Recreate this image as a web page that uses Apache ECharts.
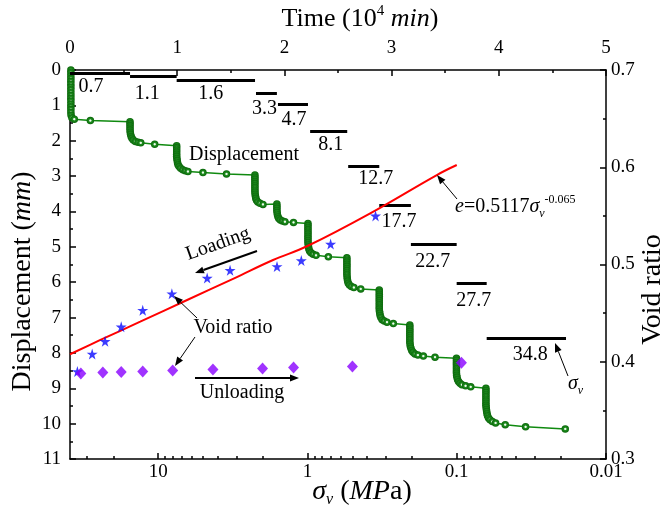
<!DOCTYPE html>
<html><head><meta charset="utf-8">
<script src="https://cdn.jsdelivr.net/npm/echarts@6/dist/echarts.min.js"></script>
<style>html,body{margin:0;padding:0;background:#fff}#c{width:665px;height:511px}</style>
</head><body><div id="c"></div>
<script>
// ---------------- data ----------------
// displacement (mm) vs time (10^4 min)
const dispPoints = [
[0.008,0.00],[0.008,0.08],[0.008,0.16],[0.008,0.24],[0.008,0.32],[0.008,0.40],[0.008,0.48],[0.008,0.56],[0.008,0.64],[0.008,0.72],[0.008,0.80],[0.008,0.88],[0.008,0.96],[0.008,1.04],[0.008,1.12],[0.008,1.20],[0.010,1.28],[0.018,1.35],[0.04,1.39],[0.19,1.43],
[0.56,1.46],[0.56,1.52],[0.56,1.58],[0.56,1.64],[0.56,1.70],[0.562,1.76],[0.565,1.82],[0.57,1.88],[0.578,1.93],[0.59,1.98],[0.61,2.02],[0.635,2.04],[0.66,2.06],[0.79,2.10],
[0.995,2.14],[0.995,2.20],[0.995,2.26],[0.995,2.32],[0.995,2.38],[0.995,2.44],[0.997,2.50],[1.0,2.56],[1.003,2.62],[1.008,2.68],[1.018,2.73],[1.032,2.78],[1.052,2.82],[1.075,2.85],[1.10,2.87],[1.24,2.90],[1.46,2.94],
[1.725,2.97],[1.725,3.03],[1.725,3.09],[1.725,3.15],[1.725,3.21],[1.725,3.27],[1.725,3.33],[1.725,3.39],[1.725,3.45],[1.727,3.51],[1.73,3.57],[1.733,3.63],[1.74,3.68],[1.752,3.73],[1.772,3.77],[1.80,3.80],
[1.93,3.79],[1.93,3.85],[1.93,3.91],[1.93,3.97],[1.932,4.03],[1.935,4.09],[1.94,4.15],[1.948,4.20],[1.962,4.24],[1.982,4.27],[2.005,4.29],[2.085,4.31],
[2.22,4.34],[2.22,4.40],[2.22,4.46],[2.22,4.52],[2.22,4.58],[2.22,4.64],[2.22,4.70],[2.22,4.76],[2.22,4.82],[2.22,4.88],[2.222,4.94],[2.225,5.00],[2.228,5.06],[2.235,5.12],[2.248,5.17],[2.268,5.21],[2.295,5.24],[2.41,5.28],
[2.583,5.31],[2.583,5.37],[2.583,5.43],[2.583,5.49],[2.583,5.55],[2.583,5.61],[2.583,5.67],[2.583,5.73],[2.583,5.79],[2.585,5.85],[2.587,5.91],[2.59,5.97],[2.596,6.03],[2.607,6.08],[2.625,6.12],[2.648,6.15],[2.712,6.19],
[2.885,6.22],[2.885,6.28],[2.885,6.34],[2.885,6.40],[2.885,6.46],[2.885,6.52],[2.885,6.58],[2.885,6.64],[2.885,6.70],[2.885,6.76],[2.887,6.82],[2.89,6.88],[2.893,6.94],[2.90,7.00],[2.912,7.06],[2.932,7.10],[2.957,7.13],[3.016,7.17],
[3.17,7.21],[3.17,7.27],[3.17,7.33],[3.17,7.39],[3.17,7.45],[3.17,7.51],[3.17,7.57],[3.17,7.63],[3.17,7.69],[3.172,7.75],[3.175,7.81],[3.18,7.87],[3.188,7.93],[3.2,7.98],[3.218,8.03],[3.245,8.06],[3.296,8.09],[3.405,8.12],
[3.605,8.15],[3.605,8.21],[3.605,8.27],[3.605,8.33],[3.605,8.39],[3.605,8.45],[3.605,8.51],[3.605,8.57],[3.607,8.63],[3.61,8.69],[3.615,8.75],[3.624,8.81],[3.638,8.86],[3.656,8.90],[3.69,8.93],[3.738,8.96],
[3.88,9.00],[3.88,9.06],[3.88,9.12],[3.88,9.18],[3.88,9.24],[3.88,9.30],[3.88,9.36],[3.88,9.42],[3.88,9.48],[3.882,9.54],[3.884,9.60],[3.887,9.66],[3.89,9.72],[3.895,9.78],[3.904,9.84],[3.918,9.89],[3.94,9.94],[3.97,9.98],[4.06,10.03],[4.25,10.09],[4.62,10.15]
];

// loading steps: stress (MPa) and their time spans (10^4 min)
const stepStress = [0.7, 1.1, 1.6, 3.3, 4.7, 8.1, 12.7, 17.7, 22.7, 27.7, 34.8];
const stepStart  = [0, 0.56, 0.995, 1.735, 1.94, 2.24, 2.595, 2.885, 3.18, 3.607, 3.887];
const stepEnd    = [0.56, 0.995, 1.726, 1.93, 2.22, 2.586, 2.885, 3.18, 3.607, 3.887, 4.627];

// void ratio, loading (stars)
const loadSigma = [34.8, 27.7, 22.7, 17.7, 12.7, 8.1, 4.7, 3.3, 1.6, 1.1, 0.7, 0.35];
const loadE     = [0.390, 0.408, 0.421, 0.436, 0.453, 0.470, 0.486, 0.494, 0.498, 0.504, 0.521, 0.550];
// void ratio, unloading (diamonds)
const unloadSigma = [33, 23.5, 17.7, 12.7, 8.0, 4.3, 2.0, 1.24, 0.5, 0.093];
const unloadE     = [0.388, 0.389, 0.3895, 0.390, 0.391, 0.392, 0.393, 0.394, 0.395, 0.399];
// fitted curve e = 0.5117 sigma^-0.065
const fitSigma = [39, 24.4, 13.2, 6.4, 3.1, 1.7, 1.0, 0.38, 0.136, 0.1];
const fitE     = [0.4077, 0.4224, 0.4412, 0.4635, 0.4858, 0.5046, 0.519, 0.5526, 0.592, 0.6023];

// stress axis (log scale) range and ticks
const sigmaMin = 0.01, sigmaMax = 39;
const sigmaMinorTicks = [0.02,0.03,0.04,0.05,0.06,0.07,0.08,0.09,0.2,0.3,0.4,0.5,0.6,0.7,0.8,0.9,2,3,4,5,6,7,8,9,20,30];

// ---------------- layout (not data) ----------------
const stepLabelDx = [-9, -6, -5, -2, 1, 2, 12, 4, -1, 2, 4];
const stepLabelDy = [13, 17, 13, 15, 15, 14, 12, 16, 17, 17, 16];

const FONT = 'Liberation Serif';
const lg = Math.log10;
const chart = echarts.init(document.getElementById('c'), null, {renderer: 'canvas'});

const stepLines = stepStress.map((s, i) => ({coords: [[stepStart[i], s], [stepEnd[i], s]]}));
const stepLabels = stepStress.map((s, i) => ({
  value: [(stepStart[i] + stepEnd[i]) / 2, s],
  label: {offset: [stepLabelDx[i], stepLabelDy[i]]}
}));

const greenFill = {type: 'radial', x: 0.5, y: 0.5, r: 0.5, colorStops: [
  {offset: 0, color: '#ffffff'}, {offset: 0.2, color: '#e0f2e0'}, {offset: 0.42, color: '#1f8f1f'}, {offset: 1, color: '#0a660a'}]};

const axisLineStyle = {color: '#000', width: 1.5};
const labelStyle = {color: '#000', fontFamily: FONT, fontSize: 19};

function fmtPow(v) {
  const r = Math.round(v);
  if (Math.abs(v - r) > 1e-6) return '';
  return r >= 0 ? String(Math.pow(10, r)) : Math.pow(10, r).toFixed(-r);
}

function arrow(x1, y1, x2, y2, w) {
  const dx = x2 - x1, dy = y2 - y1, L = Math.hypot(dx, dy);
  const ux = dx / L, uy = dy / L, px = -uy, py = ux;
  const hl = 9, hw = 3.5;
  const bx = x2 - ux * hl, by = y2 - uy * hl;
  return [
    {type: 'line', shape: {x1: x1, y1: y1, x2: bx, y2: by}, style: {stroke: '#000', lineWidth: w}, z: 100},
    {type: 'polygon', shape: {points: [[x2, y2], [bx + px * hw, by + py * hw], [bx - px * hw, by - py * hw]]}, style: {fill: '#000'}, z: 100}
  ];
}
function txt(text, x, y, extra) {
  return Object.assign({type: 'text', x: x, y: y, z: 100, style: {text: text, fill: '#000', font: '20px "' + FONT + '"', align: 'center', verticalAlign: 'middle'}}, extra || {});
}

const graphics = [].concat(
  [txt('Displacement', 244, 155), txt('Void ratio', 233, 328), txt('Unloading', 242, 393),
   txt('Loading', 218, 244, {rotation: 0.34})],
  [{type: 'text', x: 455, y: 207, z: 100, style: {
     text: '{i|e}=0.5117{i|σ}{sub|v}{sup|-0.065}', fill: '#000', font: '20px "' + FONT + '"', align: 'left', verticalAlign: 'middle', lineHeight: 26,
     rich: {i: {fontStyle: 'italic', fontSize: 20, fontFamily: FONT, lineHeight: 26},
            sub: {fontStyle: 'italic', fontSize: 12, fontFamily: FONT, verticalAlign: 'bottom', lineHeight: 12},
            sup: {fontSize: 12, fontFamily: FONT, verticalAlign: 'top', lineHeight: 12}}}},
   {type: 'text', x: 568, y: 384, z: 100, style: {
     text: '{i|σ}{sub|v}', fill: '#000', font: '20px "' + FONT + '"', align: 'left', verticalAlign: 'middle', lineHeight: 26,
     rich: {i: {fontStyle: 'italic', fontSize: 20, fontFamily: FONT, lineHeight: 26},
            sub: {fontStyle: 'italic', fontSize: 12, fontFamily: FONT, verticalAlign: 'bottom', lineHeight: 12}}}}],
  arrow(257, 251, 195, 273, 2),
  arrow(197, 318, 174, 296, 1),
  arrow(195, 337, 175, 366, 1),
  arrow(195, 378, 299, 378, 2),
  arrow(457, 199, 437, 175, 1),
  arrow(568, 376, 555, 343, 1)
);

const line = show => ({show: show, onZero: false, lineStyle: axisLineStyle});

const option = {
  animation: false,
  backgroundColor: '#fff',
  textStyle: {fontFamily: FONT, color: '#000'},
  grid: {left: 70, right: 59, top: 70, bottom: 52, containLabel: false, outerBoundsMode: 'none'},
  xAxis: [
    { // stress (log10 of MPa), inverted
      type: 'value', position: 'bottom', min: lg(sigmaMin), max: lg(sigmaMax), interval: 1, inverse: true,
      axisLine: line(true),
      axisTick: {show: true, inside: true, length: 6, lineStyle: axisLineStyle},
      axisLabel: Object.assign({margin: 4, formatter: fmtPow, showMaxLabel: false}, labelStyle),
      splitLine: {show: false},
      name: '{i|σ}{sub|v} ({i|MP}a)', nameLocation: 'middle', nameGap: 17, nameMoveOverlap: false,
      nameTextStyle: {fontFamily: FONT, fontSize: 28, color: '#000', lineHeight: 32, padding: [0, 0, 0, 48],
        rich: {i: {fontStyle: 'italic', fontSize: 28, fontFamily: FONT, lineHeight: 32},
               sub: {fontStyle: 'italic', fontSize: 16, fontFamily: FONT, verticalAlign: 'bottom', lineHeight: 16}}}
    },
    { // minor ticks of stress axis
      type: 'value', position: 'bottom', min: lg(sigmaMin), max: lg(sigmaMax), inverse: true,
      axisLine: line(false),
      axisTick: {show: true, inside: true, length: 3, lineStyle: axisLineStyle, customValues: sigmaMinorTicks.map(lg)},
      axisLabel: {show: false}, splitLine: {show: false}
    },
    { // time
      type: 'value', position: 'top', min: 0, max: 5, interval: 1,
      axisLine: line(true),
      axisTick: {show: true, inside: true, length: 6, lineStyle: axisLineStyle},
      minorTick: {show: true, splitNumber: 2, length: 3, lineStyle: axisLineStyle},
      axisLabel: Object.assign({margin: 12}, labelStyle),
      splitLine: {show: false},
      name: 'Time (10{sup|4} {i|min})', nameLocation: 'middle', nameGap: 36, nameMoveOverlap: false,
      nameTextStyle: {fontFamily: FONT, fontSize: 26, color: '#000', lineHeight: 30, padding: [0, 0, 0, 44],
        rich: {i: {fontStyle: 'italic', fontSize: 26, fontFamily: FONT, lineHeight: 30},
               sup: {fontSize: 15, fontFamily: FONT, verticalAlign: 'top', lineHeight: 15}}}
    }
  ],
  yAxis: [
    { // displacement
      type: 'value', position: 'left', min: 0, max: 11, interval: 1, inverse: true,
      axisLine: line(true),
      axisTick: {show: true, inside: true, length: 6, lineStyle: axisLineStyle},
      minorTick: {show: true, splitNumber: 2, length: 3, lineStyle: axisLineStyle},
      axisLabel: Object.assign({margin: 9}, labelStyle),
      splitLine: {show: false},
      name: 'Displacement ({i|mm})', nameLocation: 'middle', nameRotate: 90, nameGap: 31, nameMoveOverlap: false,
      nameTextStyle: {fontFamily: FONT, fontSize: 28, color: '#000', lineHeight: 32, padding: [0, 34, 0, 0],
        rich: {i: {fontStyle: 'italic', fontSize: 28, fontFamily: FONT, lineHeight: 32}}}
    },
    { // void ratio
      type: 'value', position: 'right', min: 0.3, max: 0.7, interval: 0.1,
      axisLine: line(true),
      axisTick: {show: true, inside: true, length: 6, lineStyle: axisLineStyle},
      minorTick: {show: true, splitNumber: 2, length: 3, lineStyle: axisLineStyle},
      axisLabel: Object.assign({margin: 5, formatter: v => v.toFixed(1)}, labelStyle),
      splitLine: {show: false},
      name: 'Void ratio', nameLocation: 'middle', nameRotate: 90, nameGap: 31, nameMoveOverlap: false,
      nameTextStyle: {fontFamily: FONT, fontSize: 28, color: '#000', lineHeight: 32, padding: [0, 50, 0, 0]}
    },
    { // hidden stress scale for the loading steps
      type: 'value', show: false, min: 0.27, max: 50.27, inverse: true,
      axisLine: line(false), splitLine: {show: false}
    }
  ],
  series: [
    {
      type: 'line', name: 'Displacement', xAxisIndex: 2, yAxisIndex: 0,
      data: dispPoints, symbol: 'circle', symbolSize: 7.5, showSymbol: true,
      lineStyle: {color: '#108a10', width: 1.5},
      itemStyle: {color: greenFill, borderWidth: 0},
      z: 3
    },
    {
      type: 'lines', coordinateSystem: 'cartesian2d', xAxisIndex: 2, yAxisIndex: 2,
      data: stepLines, lineStyle: {color: '#000', width: 3, opacity: 1, curveness: 0}, z: 4
    },
    {
      type: 'scatter', xAxisIndex: 2, yAxisIndex: 2, data: stepLabels,
      symbol: 'circle', symbolSize: 0, itemStyle: {color: '#000', opacity: 1},
      label: {show: true, position: 'inside', formatter: p => String(stepStress[p.dataIndex]),
        color: '#000', opacity: 1, textBorderWidth: 0, textShadowBlur: 0, fontFamily: FONT, fontSize: 20},
      z: 5
    },
    {
      type: 'line', name: 'fit', xAxisIndex: 0, yAxisIndex: 1,
      data: fitSigma.map((s, i) => [lg(s), fitE[i]]), smooth: 0.4, symbol: 'none',
      lineStyle: {color: '#ff0000', width: 2}, z: 6
    },
    {
      type: 'scatter', name: 'Loading', xAxisIndex: 0, yAxisIndex: 1,
      data: loadSigma.map((s, i) => [lg(s), loadE[i]]),
      symbol: 'path://M50,0 L61,35 L98,35 L68,57 L79,91 L50,70 L21,91 L32,57 L2,35 L39,35 Z',
      symbolSize: 11, itemStyle: {color: '#0a0aff'}, z: 7
    },
    {
      type: 'scatter', name: 'Unloading', xAxisIndex: 0, yAxisIndex: 1,
      data: unloadSigma.map((s, i) => [lg(s), unloadE[i]]),
      symbol: 'diamond', symbolSize: [11, 12], itemStyle: {color: '#8800ff'}, z: 8
    }
  ],
  graphic: graphics
};
chart.setOption(option);
</script>
</body></html>
